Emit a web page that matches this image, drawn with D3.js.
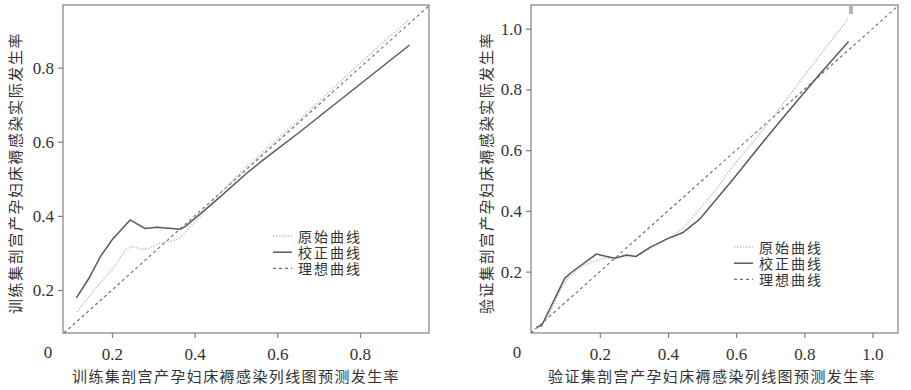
<!DOCTYPE html>
<html>
<head>
<meta charset="utf-8">
<script src="https://cdn.jsdelivr.net/npm/d3@7"></script>
<style>
  body { margin: 0; background: #fff; }
  svg { display: block; }
  .tick-label { font-family: "Liberation Serif", "DejaVu Serif", serif; font-size: 17px; fill: #333; }
  .cjk { font-family: "Noto Sans CJK SC", sans-serif; fill: #333; }
</style>
</head>
<body>
<div id="chart"></div>
<script>
// ---- data ----
var legendNames = ['原始曲线', '校正曲线', '理想曲线'];

// training set
var trainApparent = [[0.116,0.141],[0.15,0.19],[0.2,0.255],[0.248,0.317],[0.276,0.310],[0.317,0.326],[0.361,0.339],[0.397,0.380],[0.5,0.505],[0.6,0.607],[0.7,0.708],[0.8,0.812],[0.919,0.930]];
var trainCalibrated = [[0.114,0.179],[0.144,0.231],[0.172,0.290],[0.2,0.335],[0.244,0.389],[0.280,0.366],[0.309,0.369],[0.365,0.364],[0.377,0.371],[0.45,0.44],[0.526,0.515],[0.566,0.551],[0.655,0.627],[0.920,0.861]];
var trainTicks = [0.2, 0.4, 0.6, 0.8];

// validation set
var validApparent = [[0.006,0.011],[0.039,0.039],[0.092,0.154],[0.122,0.195],[0.190,0.236],[0.244,0.247],[0.303,0.250],[0.337,0.269],[0.396,0.307],[0.444,0.345],[0.493,0.406],[0.542,0.472],[0.591,0.548],[0.640,0.614],[0.718,0.724],[0.800,0.845],[0.931,1.036]];
var validCalibrated = [[0.014,0.017],[0.029,0.022],[0.097,0.178],[0.117,0.198],[0.190,0.258],[0.220,0.250],[0.244,0.244],[0.278,0.255],[0.306,0.250],[0.347,0.280],[0.396,0.307],[0.444,0.329],[0.493,0.373],[0.591,0.504],[0.689,0.641],[0.7375,0.707],[0.845,0.850],[0.930,0.958]];
var validTicks = [0.2, 0.4, 0.6, 0.8, 1.0];
var validRug = [0.934, 0.940];

var panels = [
  { left: 63, right: 429, top: 5, bottom: 333,
    xDomain: [0.0816, 0.967], yDomain: [0.084, 0.969],
    ticks: trainTicks, apparent: trainApparent, calibrated: trainCalibrated, rug: [],
    ylabel: '训练集剖宫产孕妇床褥感染实际发生率', ylabelX: 14,
    xlabel: '训练集剖宫产孕妇床褥感染列线图预测发生率', xlabelX: 236,
    zeroX: 48, legendX: 273, legendY: 236 },
  { left: 531, right: 898, top: 5, bottom: 333,
    xDomain: [-0.002, 1.075], yDomain: [-0.002, 1.078],
    ticks: validTicks, apparent: validApparent, calibrated: validCalibrated, rug: validRug,
    ylabel: '验证集剖宫产孕妇床褥感染实际发生率', ylabelX: 485,
    xlabel: '验证集剖宫产孕妇床褥感染列线图预测发生率', xlabelX: 712,
    zeroX: 517, legendX: 734, legendY: 247 }
];

var svg = d3.select('#chart').append('svg')
  .attr('width', 911).attr('height', 390);

var axisColor = '#808080';
var styles = [
  { stroke: '#c8c8c8', width: 1.6, dash: '1.5,1.5' },
  { stroke: '#5a5a5a', width: 1.5, dash: null },
  { stroke: '#707070', width: 1.2, dash: '3,3' }
];

panels.forEach(function(p) {
  var x = d3.scaleLinear().domain(p.xDomain).range([p.left, p.right]);
  var y = d3.scaleLinear().domain(p.yDomain).range([p.bottom, p.top]);
  var g = svg.append('g');

  // frame
  g.append('rect')
    .attr('x', p.left).attr('y', p.top)
    .attr('width', p.right - p.left).attr('height', p.bottom - p.top)
    .attr('fill', 'none').attr('stroke', axisColor).attr('stroke-width', 1.2);

  // axes
  var xAxis = g.append('g').attr('transform', 'translate(0,' + p.bottom + ')')
    .call(d3.axisBottom(x).tickValues(p.ticks).tickSize(5).tickPadding(6).tickFormat(d3.format('.1f')));
  var yAxis = g.append('g').attr('transform', 'translate(' + p.left + ',0)')
    .call(d3.axisLeft(y).tickValues(p.ticks).tickSize(5).tickPadding(4).tickFormat(d3.format('.1f')));
  [xAxis, yAxis].forEach(function(a) {
    a.select('.domain').remove();
    a.selectAll('line').attr('stroke', axisColor).attr('stroke-width', 1.2);
    a.selectAll('text').attr('class', 'tick-label').attr('fill', null);
  });
  xAxis.selectAll('text').attr('dy', '0.95em');

  // stray "0" label at the corner
  g.append('text').attr('class', 'tick-label')
    .attr('x', p.zeroX).attr('y', 358).attr('text-anchor', 'middle')
    .text('0');

  // ideal line
  var lo = Math.max(p.xDomain[0], p.yDomain[0]);
  var hi = Math.min(p.xDomain[1], p.yDomain[1]);
  var line = d3.line().x(function(d) { return x(d[0]); }).y(function(d) { return y(d[1]); });

  g.append('path').datum([[lo, lo], [hi, hi]])
    .attr('d', line).attr('fill', 'none')
    .attr('stroke', styles[2].stroke).attr('stroke-width', styles[2].width)
    .attr('stroke-dasharray', styles[2].dash);

  g.append('path').datum(p.apparent)
    .attr('d', line.curve(d3.curveMonotoneX)).attr('fill', 'none')
    .attr('stroke', styles[0].stroke).attr('stroke-width', styles[0].width)
    .attr('stroke-dasharray', styles[0].dash);

  g.append('path').datum(p.calibrated)
    .attr('d', line.curve(d3.curveLinear)).attr('fill', 'none')
    .attr('stroke', styles[1].stroke).attr('stroke-width', styles[1].width);

  // rug at top
  g.selectAll('.rug').data(p.rug).enter().append('line')
    .attr('x1', function(d) { return x(d); }).attr('x2', function(d) { return x(d); })
    .attr('y1', p.top + 1).attr('y2', p.top + 9)
    .attr('stroke', '#666').attr('stroke-width', 1);

  // axis titles
  g.append('text').attr('class', 'cjk')
    .attr('transform', 'translate(' + p.ylabelX + ',' + ((p.top + p.bottom) / 2 + 4) + ') rotate(-90)')
    .attr('text-anchor', 'middle').attr('dominant-baseline', 'central')
    .style('font-size', '15px').style('letter-spacing', '1.6px')
    .text(p.ylabel);
  g.append('text').attr('class', 'cjk')
    .attr('x', p.xlabelX).attr('y', 375)
    .attr('text-anchor', 'middle').attr('dominant-baseline', 'central')
    .style('font-size', '15px').style('letter-spacing', '1.4px')
    .text(p.xlabel);

  // legend
  var lg = g.append('g').attr('transform', 'translate(' + p.legendX + ',' + p.legendY + ')');
  legendNames.forEach(function(name, i) {
    var row = lg.append('g').attr('transform', 'translate(0,' + (i * 16.2) + ')');
    row.append('line').attr('x1', 0).attr('x2', 19).attr('y1', 0).attr('y2', 0)
      .attr('stroke', styles[i].stroke).attr('stroke-width', styles[i].width)
      .attr('stroke-dasharray', styles[i].dash);
    row.append('text').attr('class', 'cjk')
      .attr('x', 25).attr('y', 0).attr('dominant-baseline', 'central')
      .style('font-size', '14px').style('letter-spacing', '2px')
      .text(name);
  });
});
</script>
</body>
</html>
